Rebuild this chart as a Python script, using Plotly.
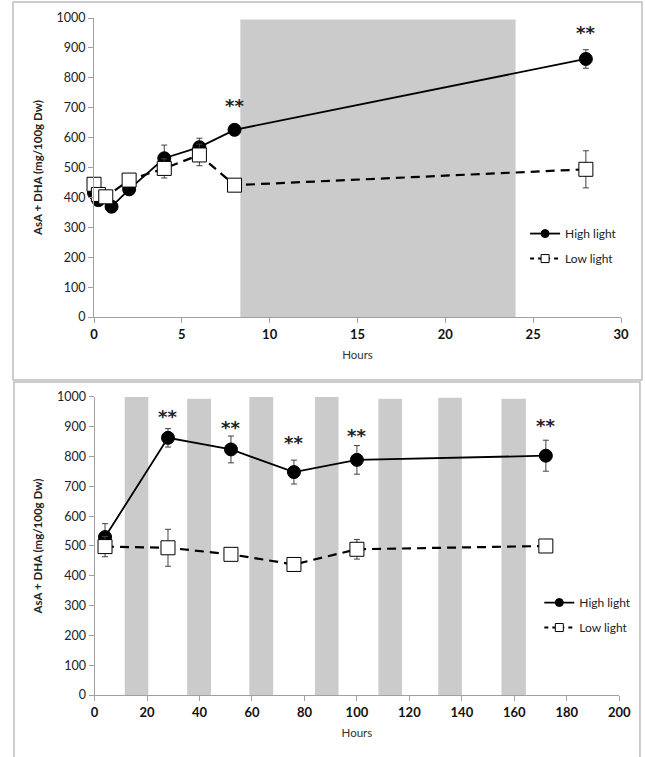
import plotly.graph_objects as go

# ---------------- data ----------------
# Top panel (0-30 h)
top_hours_high = [0, 0.25, 1, 2, 4, 6, 8, 28]
top_high = [415, 391, 369, 427, 531, 568, 626, 863]
top_high_err = [0, 12, 18, 18, 44, 30, 0, 31]

top_hours_low = [0, 0.25, 0.67, 2, 4, 6, 8, 28]
top_low = [444, 410, 402, 458, 497, 542, 441, 494]
top_low_err = [0, 0, 0, 0, 32, 36, 0, 62]

top_dark_start = [8.33]
top_dark_end = [24]
top_dark_top = [995]

top_sig_hours = [8, 28]
top_sig_y = [709, 953]

# Bottom panel (0-200 h)
bot_hours = [4, 28, 52, 76, 100, 172]
bot_high = [530, 863, 824, 748, 789, 803]
bot_high_err = [45, 31, 45, 40, 48, 52]
bot_low = [498, 494, 472, 438, 489, 500]
bot_low_err = [34, 62, 8, 8, 33, 8]

bot_dark_start = [11.5, 35.3, 59, 84, 108.2, 131, 155.1]
bot_dark_end = [20.5, 44.4, 68.1, 93, 117.2, 140, 164.4]
bot_dark_top = [1000, 994, 1000, 1000, 994, 997, 994]

bot_sig_hours = [28, 52, 76, 100, 172]
bot_sig_y = [933, 897, 846, 872, 905]

top_xticks = [0, 5, 10, 15, 20, 25, 30]
bot_xticks = [0, 20, 40, 60, 80, 100, 120, 140, 160, 180, 200]
yticks = [0, 100, 200, 300, 400, 500, 600, 700, 800, 900, 1000]
series_names = ["High light", "Low light"]

# ---------------- styling ----------------
FONT = "Lato"
AXCOL = "#a0a0a0"
BANDCOL = "#cbcbcb"
ERRCOL = "#404040"

fig = go.Figure()

def styles(kind, msize_c, msize_s):
    if kind == "high":
        marker = dict(symbol="circle", size=msize_c, color="black",
                      line=dict(color="black", width=1))
        line = dict(color="black", width=1.8)
    else:
        marker = dict(symbol="square", size=msize_s, color="white",
                      line=dict(color="black", width=1))
        line = dict(color="black", width=2.2, dash="9px,6px")
    return marker, line

def add_series(x, y, err, xa, ya, kind):
    marker, line = styles(kind, 13, 14)
    fig.add_trace(go.Scatter(
        x=x, y=y, mode="lines+markers",
        xaxis=xa, yaxis=ya, marker=marker, line=line,
        error_y=dict(type="data", array=err, visible=True,
                     color=ERRCOL, thickness=1, width=3),
        cliponaxis=False, showlegend=False, hoverinfo="x+y",
    ))

def add_legend_entry(name, kind, xa, ya, legend):
    marker, line = styles(kind, 8, 8)
    if kind == "low":
        line = dict(color="black", width=2, dash="4px,4px")
    fig.add_trace(go.Scatter(
        x=[None], y=[None], name=name, mode="lines+markers",
        xaxis=xa, yaxis=ya, marker=marker, line=line,
        legend=legend, legendgroup=legend + kind, showlegend=True,
    ))

add_series(top_hours_high, top_high, top_high_err, "x", "y", "high")
add_series(top_hours_low, top_low, top_low_err, "x", "y", "low")
add_series(bot_hours, bot_high, bot_high_err, "x2", "y2", "high")
add_series(bot_hours, bot_low, bot_low_err, "x2", "y2", "low")

add_legend_entry(series_names[0], "high", "x", "y", "legend")
add_legend_entry(series_names[1], "low", "x", "y", "legend")
add_legend_entry(series_names[0], "high", "x2", "y2", "legend2")
add_legend_entry(series_names[1], "low", "x2", "y2", "legend2")

shapes = []
for s, e, t in zip(top_dark_start, top_dark_end, top_dark_top):
    shapes.append(dict(type="rect", xref="x", yref="y", x0=s, x1=e, y0=0, y1=t,
                       fillcolor=BANDCOL, line=dict(width=0), layer="below"))
for s, e, t in zip(bot_dark_start, bot_dark_end, bot_dark_top):
    shapes.append(dict(type="rect", xref="x2", yref="y2", x0=s, x1=e, y0=0, y1=t,
                       fillcolor=BANDCOL, line=dict(width=0), layer="below"))

# panel frames (paper coordinates)
shapes.append(dict(type="rect", xref="paper", yref="paper",
                   x0=-0.1537, x1=1.0398, y0=0.4653, y1=1.0237,
                   line=dict(color="#bdbdbd", width=1.5), layer="below"))
shapes.append(dict(type="rect", xref="paper", yref="paper",
                   x0=-0.1518, x1=1.036, y0=-0.12, y1=0.4623,
                   line=dict(color="#bdbdbd", width=1.5), layer="below"))

annotations = []
for h, v in zip(top_sig_hours, top_sig_y):
    annotations.append(dict(x=h, y=v, xref="x", yref="y", text="<b>**</b>",
                            showarrow=False, font=dict(size=18, color="#222", family="DejaVu Sans")))
for h, v in zip(bot_sig_hours, bot_sig_y):
    annotations.append(dict(x=h, y=v, xref="x2", yref="y2", text="<b>**</b>",
                            showarrow=False, font=dict(size=18, color="#222", family="DejaVu Sans")))

ytitle = dict(text="<b>AsA + DHA (mg/100g Dw)</b>", font=dict(size=11.5, family=FONT, color="#222"),
              standoff=11)
xtitle = dict(text="Hours", font=dict(size=11.5, family=FONT, color="#333"), standoff=10)

common_y = dict(range=[0, 1000], tickvals=yticks, showgrid=False, zeroline=False,
                showline=True, linecolor=AXCOL, linewidth=1, ticks="outside",
                ticklen=5, tickcolor=AXCOL, tickfont=dict(size=12.5, family=FONT, color="#222"),
                title=ytitle)
common_x = dict(showgrid=False, zeroline=False, showline=True, linecolor=AXCOL, linewidth=1,
                ticks="outside", ticklen=5, tickcolor=AXCOL,
                tickfont=dict(size=13, family=FONT, color="#111", weight="bold"),
                title=xtitle)

legend_common = dict(xanchor="left", yanchor="top",
                     font=dict(size=12, family=FONT, color="#222"),
                     bgcolor="rgba(0,0,0,0)", tracegroupgap=6, itemwidth=30)

fig.update_layout(
    width=645, height=757,
    margin=dict(l=94, r=24, t=18, b=62, autoexpand=False),
    paper_bgcolor="white", plot_bgcolor="white",
    font=dict(family=FONT, color="#222"),
    xaxis=dict(common_x, range=[0, 30], tickvals=top_xticks,
               domain=[0, 1], anchor="y"),
    yaxis=dict(common_y, domain=[0.5583, 1.0], anchor="x"),
    xaxis2=dict(common_x, range=[0, 200], tickvals=bot_xticks,
                domain=[0.001, 0.9968], anchor="y2"),
    yaxis2=dict(common_y, domain=[0.0, 0.4402], anchor="x2"),
    legend=dict(legend_common, x=0.818, y=0.703),
    legend2=dict(legend_common, x=0.845, y=0.158),
    shapes=shapes,
    annotations=annotations,
)

fig.write_html("out.html")
